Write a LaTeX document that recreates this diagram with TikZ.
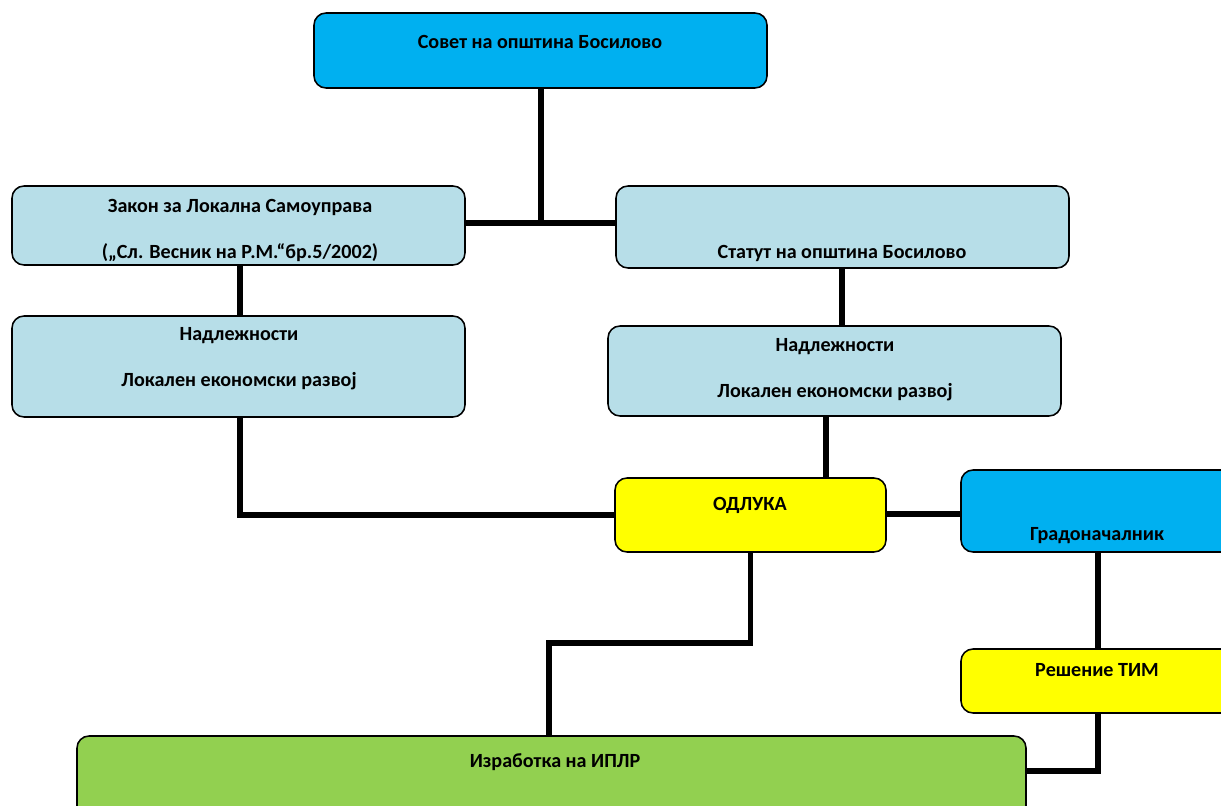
\documentclass[tikz,border=0pt]{standalone}
\usepackage{fontspec}
\setmainfont{Carlito}
\usepackage{tikz}
\usetikzlibrary{calc,positioning}
\newcommand{\pxu}{0.025cm}
\definecolor{blaa}{HTML}{00B0F0}
\definecolor{lyseblaa}{HTML}{B7DEE8}
\definecolor{gul}{HTML}{FFFF00}
\definecolor{groen}{HTML}{92D050}
\tikzset{
    boks/.style={
           rectangle, rounded corners=12*\pxu,
           draw=black, line width=1.1pt,
           inner sep=0pt},
    tekst/.style={
           font=\fontsize{14.3}{32.7}\selectfont\bfseries,
           align=center,
           inner sep=0pt},
    streg/.style={
           line width=3.6pt}
}
\begin{document}
\begin{tikzpicture}[x=\pxu, y=-\pxu]
        \useasboundingbox (0,0) rectangle (1221,806);
        \clip (0,0) rectangle (1221,806);

        % boxes
        \node[boks, fill=blaa, minimum width=453*\pxu, minimum height=75*\pxu] (sovet) at (540.5,50.5) {};
        \node[boks, fill=lyseblaa, minimum width=453*\pxu, minimum height=79*\pxu] (zakon) at (238.5,225.5) {};
        \node[boks, fill=lyseblaa, minimum width=453*\pxu, minimum height=82*\pxu] (statut) at (842.5,227) {};
        \node[boks, fill=lyseblaa, minimum width=453*\pxu, minimum height=101*\pxu] (nadl1) at (238.5,366.5) {};
        \node[boks, fill=lyseblaa, minimum width=453*\pxu, minimum height=90*\pxu] (nadl2) at (834.5,371) {};
        \node[boks, fill=gul, minimum width=271*\pxu, minimum height=74*\pxu] (odluka) at (750.5,515) {};
        \node[boks, fill=blaa, minimum width=280*\pxu, minimum height=82*\pxu] (grad) at (1101,511) {};
        \node[boks, fill=gul, minimum width=280*\pxu, minimum height=64*\pxu] (resenie) at (1101,681) {};
        \node[boks, fill=groen, minimum width=949*\pxu, minimum height=90*\pxu] (izrab) at (551.5,781) {};

        % texts
        \node[tekst] (sovet-t) at (540,42) {Совет на општина Босилово};
        \node[tekst] (zakon-t) at (240,230) {Закон за Локална Самоуправа\\(„Сл. Весник на Р.М.“бр.5/2002)};
        \node[tekst] (statut-t) at (842,253) {Статут на општина Босилово};
        \node[tekst] (nadl1-t) at (239,358.5) {Надлежности\\Локален економски развој};
        \node[tekst] (nadl2-t) at (835,369.5) {Надлежности\\Локален економски развој};
        \node[tekst] (odluka-t) at (750,505) {ОДЛУКА};
        \node[tekst] (grad-t) at (1097,536) {Градоначалник};
        \node[tekst] (resenie-t) at (1097,670) {Решение ТИМ};
        \node[tekst] (izrab-t) at (555,762) {Изработка на ИПЛР};

        % connectors
        \coordinate (j1) at (541,223);
        \coordinate (j2) at (549,643);
        \coordinate (j3) at (1098,771);
        \draw[streg] (sovet.south -| j1) -- (j1);
        \draw[streg] (zakon.east |- j1) -- (statut.west |- j1);
        \draw[streg] (zakon.south -| 240,0) -- (nadl1.north -| 240,0);
        \draw[streg] (statut.south -| 842,0) -- (nadl2.north -| 842,0);
        \draw[streg] (nadl1.south -| 240,0) |- (odluka.west);
        \draw[streg] (nadl2.south -| 826,0) -- (odluka.north -| 826,0);
        \draw[streg] (odluka.east |- 0,514) -- (grad.west |- 0,514);
        \draw[streg] (odluka.south) |- (j2) -- (j2 |- izrab.north);
        \draw[streg] (grad.south -| j3) -- (resenie.north -| j3);
        \draw[streg] (resenie.south -| j3) -- (j3) -- (izrab.east |- j3);

    \end{tikzpicture}
\end{document}
